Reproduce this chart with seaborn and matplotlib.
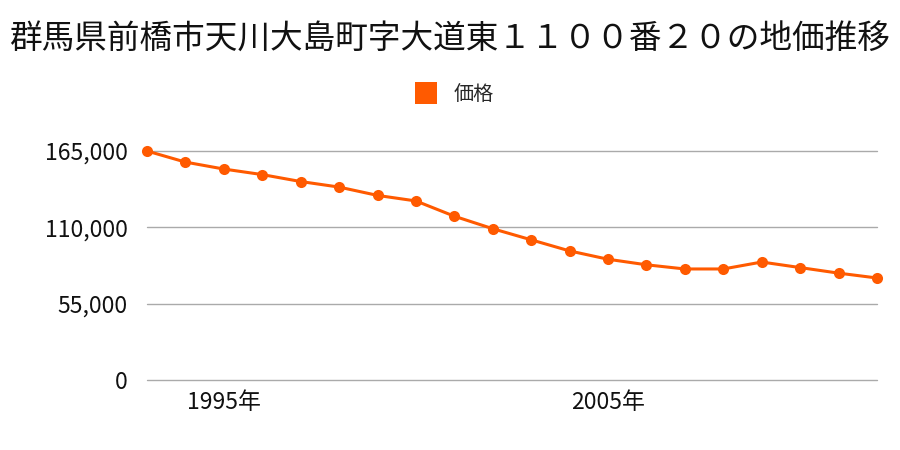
import pandas as pd
import seaborn as sns
import matplotlib.pyplot as plt
from matplotlib.lines import Line2D
from matplotlib.ticker import FuncFormatter

# data
years = list(range(1993, 2013))
prices = [165000, 157000, 152000, 148000, 143000, 139000, 133000, 129000, 118000, 109000,
          101000, 93000, 87000, 83000, 80000, 80000, 85000, 81000, 77000, 73500]
y_ticks = [0, 55000, 110000, 165000]
x_ticks = [1995, 2005]
x_labels = ["1995年", "2005年"]
title = "群馬県前橋市天川大島町字大道東１１００番２０の地価推移"
series_name = "価格"

df = pd.DataFrame({"year": years, "price": prices})

sns.set_theme(style="white")
plt.rcParams['font.family'] = ['Noto Sans CJK JP', 'DejaVu Sans']

orange = "#ff5a00"

fig = plt.figure(figsize=(9, 4.5), dpi=100)
ax = fig.add_axes([147 / 900, 1 - 380 / 450, 730 / 900, 229 / 450])

sns.lineplot(data=df, x="year", y="price", ax=ax, color=orange, linewidth=2.2,
             marker="o", markersize=8, markeredgewidth=0, clip_on=False, zorder=3)

ax.set_xlim(1993, 2012)
ax.set_ylim(0, 165000)
ax.set_yticks(y_ticks)
ax.yaxis.set_major_formatter(FuncFormatter(lambda v, p: f"{int(v):,}"))
ax.set_xticks(x_ticks)
ax.set_xticklabels(x_labels)
ax.tick_params(axis="both", length=0, labelsize=16.5, colors="#111111")
ax.tick_params(axis="y", pad=14)
ax.tick_params(axis="x", pad=8)
ax.grid(axis="y", color="#aaaaaa", linewidth=1)
ax.grid(axis="x", visible=False)
for gl in ax.get_ygridlines():
    gl.set_clip_on(False)
for s in ax.spines.values():
    s.set_visible(False)
ax.set_xlabel("")
ax.set_ylabel("")

fig.text(0.5, 1 - 40 / 450, title, ha="center", va="center", fontsize=23.5, color="#111111")

handle = Line2D([], [], linestyle="none", marker="s", markersize=16,
                markerfacecolor=orange, markeredgewidth=0)
fig.legend([handle], [series_name], loc="center", bbox_to_anchor=(0.5, 1 - 95 / 450),
           frameon=False, fontsize=14.5, handletextpad=0.4)

fig.savefig("out.png", dpi=100)
